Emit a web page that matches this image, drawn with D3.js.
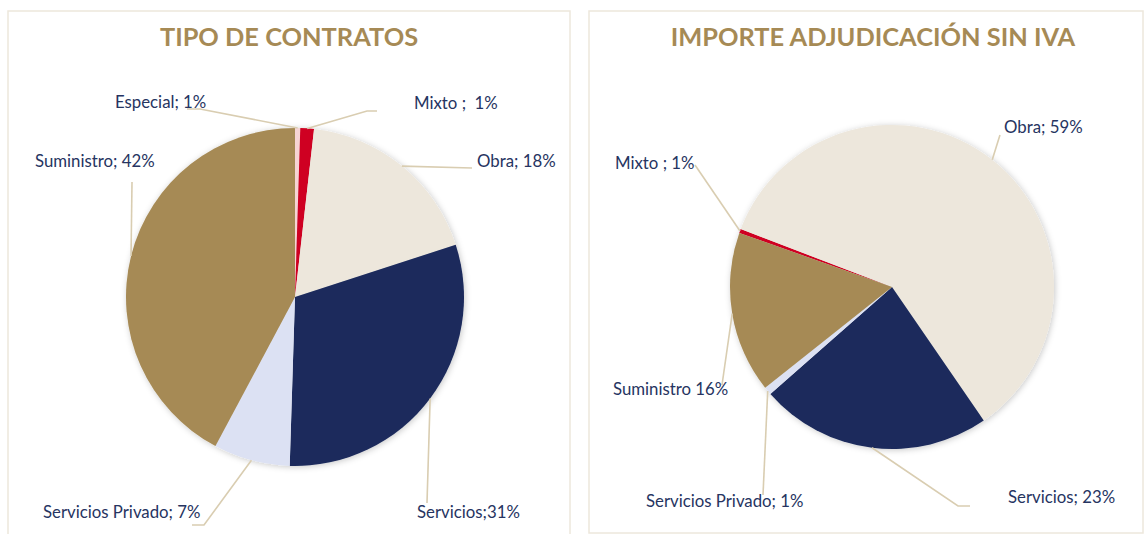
<!DOCTYPE html>
<html>
<head>
<meta charset="utf-8">
<script src="https://cdn.jsdelivr.net/npm/d3@7"></script>
<style>
  html, body { margin: 0; padding: 0; background: #fff; }
  svg { display: block; }
  .title { font-family: Lato, "Open Sans", sans-serif; font-weight: 700; fill: #a68a55; }
  .label { font-family: Lato, "Open Sans", sans-serif; fill: #263461; white-space: pre; }
</style>
</head>
<body>
<svg id="chart" width="1145" height="534"></svg>
<script>
// --- data: tipo de contratos (percent of contracts)
const contratosCategorias = ['Especial', 'Mixto', 'Obra', 'Servicios', 'Servicios Privado', 'Suministro'];
const contratosValores = [0.5, 1.3, 18.2, 30.5, 7.3, 42.2];
const contratosEtiquetas = ['Especial; 1%', 'Mixto ;  1%', 'Obra; 18%', 'Servicios;31%', 'Servicios Privado; 7%', 'Suministro; 42%'];

// --- data: importe adjudicacion sin IVA (percent of amount)
const importeCategorias = ['Mixto', 'Obra', 'Servicios', 'Servicios Privado', 'Suministro'];
const importeValores = [0.4, 59.6, 23.1, 0.8, 16.1];
const importeEtiquetas = ['Mixto ; 1%', 'Obra; 59%', 'Servicios; 23%', 'Servicios Privado; 1%', 'Suministro 16%'];

const colores = {
  'Especial': '#f6d4d4',
  'Mixto': '#cf0020',
  'Obra': '#ede7dc',
  'Servicios': '#1b2a5b',
  'Servicios Privado': '#dce1f3',
  'Suministro': '#a68a55'
};

const svg = d3.select('#chart');

// soft shadow like the office chart
const defs = svg.append('defs');
const shadow = defs.append('filter').attr('id', 'shadow')
  .attr('x', '-10%').attr('y', '-10%').attr('width', '120%').attr('height', '120%');
shadow.append('feDropShadow')
  .attr('dx', 1).attr('dy', 1).attr('stdDeviation', 3)
  .attr('flood-color', '#000').attr('flood-opacity', 0.22);

// label placement: text start (x, baseline) and leader line bend points
const contratosLayout = [
  { tx: 115, ty: 108, line: [[200, 109], [187, 109]] },
  { tx: 414, ty: 109, line: [[367, 111], [377, 111]] },
  { tx: 477, ty: 167, line: [[472, 168]] },
  { tx: 417, ty: 518, line: [[427, 503]] },
  { tx: 43, ty: 518, line: [[204, 525], [192, 525]] },
  { tx: 35, ty: 167, line: [[132, 182]] }
];
const importeLayout = [
  { tx: 615, ty: 169, line: [[695, 165]] },
  { tx: 1004, ty: 133, line: [[1000, 135]] },
  { tx: 1008, ty: 503, line: [[958, 506], [970, 506]] },
  { tx: 646, ty: 507, line: [[763, 495]] },
  { tx: 613, ty: 395, line: [[722, 385]] }
];

function drawPanel(opts) {
  const g = svg.append('g');

  // panel frame
  g.append('rect')
    .attr('x', opts.frame[0]).attr('y', opts.frame[1])
    .attr('width', opts.frame[2]).attr('height', opts.frame[3])
    .attr('fill', 'none')
    .attr('stroke', '#ede7dc')
    .attr('stroke-width', 1.5);

  g.append('text')
    .attr('class', 'title')
    .attr('x', opts.titleX)
    .attr('y', 46)
    .attr('text-anchor', 'middle')
    .style('font-size', '25.4px')
    .text(opts.title);

  const data = opts.categorias.map((c, i) => ({ cat: c, value: opts.valores[i], label: opts.etiquetas[i] }));

  const pie = d3.pie()
    .sort(null)
    .value(d => d.value)
    .startAngle(opts.startAngle)
    .endAngle(opts.startAngle + 2 * Math.PI);

  const arcs = pie(data);
  const arc = d3.arc().innerRadius(0).outerRadius(opts.r);
  const edge = d3.arc().innerRadius(opts.r).outerRadius(opts.r);

  const pieG = g.append('g')
    .attr('transform', `translate(${opts.cx},${opts.cy})`);

  pieG.append('g')
    .attr('filter', 'url(#shadow)')
    .selectAll('path')
    .data(arcs)
    .enter()
    .append('path')
    .attr('d', arc)
    .attr('fill', d => colores[d.data.cat]);

  // leader lines: from slice edge midpoint to the label
  arcs.forEach((d, i) => {
    const lay = opts.layout[i];
    const p = edge.centroid(d);
    const pts = [[opts.cx + p[0], opts.cy + p[1]]].concat(lay.line);
    g.append('path')
      .attr('d', d3.line()(pts))
      .attr('fill', 'none')
      .attr('stroke', '#d9cdb1')
      .attr('stroke-width', 1.6);

    g.append('text')
      .attr('class', 'label')
      .attr('x', lay.tx)
      .attr('y', lay.ty)
      .style('font-size', '16.8px')
      .text(d.data.label);
  });
}

drawPanel({
  title: 'TIPO DE CONTRATOS',
  titleX: 289,
  frame: [8, 11, 562, 530],
  cx: 295, cy: 297, r: 169,
  startAngle: 0,
  categorias: contratosCategorias,
  valores: contratosValores,
  etiquetas: contratosEtiquetas,
  layout: contratosLayout
});

drawPanel({
  title: 'IMPORTE ADJUDICACIÓN SIN IVA',
  titleX: 873,
  frame: [589, 11, 554, 522],
  cx: 892, cy: 287, r: 162,
  startAngle: 289.5 * Math.PI / 180,
  categorias: importeCategorias,
  valores: importeValores,
  etiquetas: importeEtiquetas,
  layout: importeLayout
});
</script>
</body>
</html>
